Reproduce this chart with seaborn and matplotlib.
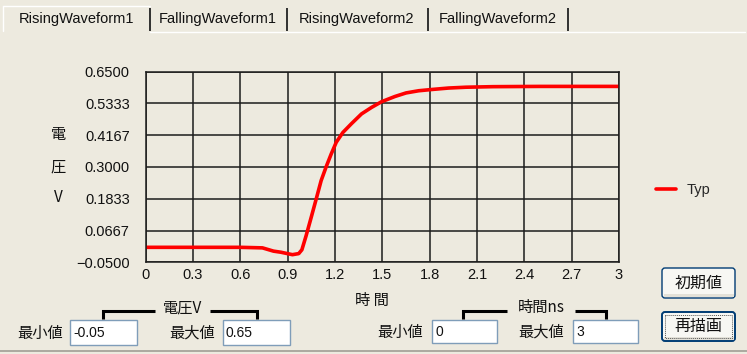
import matplotlib
matplotlib.use("Agg")
import matplotlib.pyplot as plt
from matplotlib.patches import Rectangle, FancyBboxPatch
import seaborn as sns
import pandas as pd

# Rising waveform "Typ" corner: time in ns, voltage in V
time_ns = [0.0, 0.3, 0.6, 0.74, 0.81, 0.857, 0.93, 0.97, 0.99, 1.017, 1.049,
           1.081, 1.112, 1.144, 1.176, 1.208, 1.25, 1.304, 1.368, 1.432, 1.496,
           1.58, 1.65, 1.73, 1.82, 1.92, 2.03, 2.2, 2.5, 3.0]
voltage = [0.005, 0.005, 0.005, 0.003, -0.009, -0.013, -0.022, -0.018, -0.004,
           0.048, 0.115, 0.183, 0.250, 0.301, 0.348, 0.391, 0.427, 0.459, 0.495,
           0.519, 0.540, 0.559, 0.572, 0.580, 0.585, 0.590, 0.593, 0.595, 0.596,
           0.596]

y_ticks = [-0.05, 0.0667, 0.1833, 0.3, 0.4167, 0.5333, 0.65]
y_tick_labels = ["\u22120.0500", "0.0667", "0.1833", "0.3000", "0.4167", "0.5333", "0.6500"]
x_ticks = [0, 0.3, 0.6, 0.9, 1.2, 1.5, 1.8, 2.1, 2.4, 2.7, 3.0]
x_tick_labels = ["0", "0.3", "0.6", "0.9", "1.2", "1.5", "1.8", "2.1", "2.4", "2.7", "3"]

tab_names = ["RisingWaveform1", "FallingWaveform1", "RisingWaveform2", "FallingWaveform2"]
series_name = "Typ"

BG = "#EDEADF"
LATIN = ["Liberation Sans", "DejaVu Sans"]
CJK = ["Noto Sans CJK JP", "DejaVu Sans"]

sns.set_style("white")
plt.rcParams["font.family"] = LATIN

W, H = 747, 354
fig = plt.figure(figsize=(W / 100, H / 100), dpi=100, facecolor=BG)

# Pixel-space overlay for the dialog widgets
ov = fig.add_axes([0, 0, 1, 1], zorder=0)
ov.set_xlim(0, W)
ov.set_ylim(H, 0)
ov.axis("off")
ov.patch.set_alpha(0)

# Tab strip
tab_centers = [77, 218, 357, 498]
for name, cx in zip(tab_names, tab_centers):
    ov.text(cx, 19, name, ha="center", va="center", fontsize=10.5,
            family=LATIN, color="#111111")
for sx in [150, 287, 428, 568]:
    ov.plot([sx, sx], [8, 31], color="#222222", lw=1.3, solid_capstyle="butt")
ov.plot([150, 745], [31.5, 31.5], color="white", lw=1.0)
ov.plot([3, 3], [6, 31], color="white", lw=1.0)
ov.plot([3, 150], [5.5, 5.5], color="white", lw=1.0)

# Chart axes placed on the pixel grid
x0, x1 = 145.7, 619.0
y_top, y_bot = 71.7, 262.3
ax = fig.add_axes([x0 / W, 1 - y_bot / H, (x1 - x0) / W, (y_bot - y_top) / H], zorder=2)
ax.set_facecolor("none")

df = pd.DataFrame({"time": time_ns, "voltage": voltage})
sns.lineplot(data=df, x="time", y="voltage", color="#FF0000", lw=2.6,
             solid_joinstyle="round", ax=ax, label=series_name)

ax.set_xlim(0, 3)
ax.set_ylim(-0.05, 0.65)
ax.set_xticks(x_ticks)
ax.set_xticklabels(x_tick_labels)
ax.set_yticks(y_ticks)
ax.set_yticklabels(y_tick_labels)
ax.grid(True, color="#1c1c1c", lw=1.1)
ax.set_axisbelow(True)
for sp in ax.spines.values():
    sp.set_color("#1c1c1c")
    sp.set_linewidth(1.1)
ax.tick_params(axis="y", length=4.5, width=1.1, color="#1c1c1c", pad=7,
               labelsize=10.5, labelcolor="#111111")
ax.tick_params(axis="x", length=0, pad=4, labelsize=10.5, labelcolor="#111111")
ax.set_xlabel("")
ax.set_ylabel("")

ax.legend(loc="center left", bbox_to_anchor=(656 / W, 1 - 190 / H),
          bbox_transform=fig.transFigure, frameon=False, borderpad=0,
          borderaxespad=0, handlelength=1.35, handletextpad=0.75,
          fontsize=10.5)

# Axis titles
for ch, yy in zip(["電", "圧", "V"], [135, 167, 198]):
    ov.text(58, yy, ch, ha="center", va="center", fontsize=11, family=CJK, color="#111111")
ov.text(372, 300, "時 間", ha="center", va="center", fontsize=11, family=CJK, color="#111111")


def bracket(xl, xr, tx0, tx1, label, ty):
    ov.plot([xl, xl, tx0], [319, 310.5, 310.5], color="black", lw=2.2,
            solid_joinstyle="miter", solid_capstyle="butt")
    ov.plot([tx1, xr, xr], [310.5, 310.5, 319], color="black", lw=2.2,
            solid_joinstyle="miter", solid_capstyle="butt")
    ov.text((tx0 + tx1) / 2, ty, label, ha="center", va="center",
            fontsize=11, family=CJK, color="#111111")


def textbox(xl, xr, yt, yb, value):
    ov.add_patch(Rectangle((xl, yt), xr - xl, yb - yt, facecolor="white",
                           edgecolor="#7F9DB9", lw=1.0))
    ov.text(xl + 3, (yt + yb) / 2 + 0.5, value, ha="left", va="center",
            fontsize=10, family=LATIN, color="#111111")


def button(xl, xr, yt, yb, label, focused=False):
    ov.add_patch(FancyBboxPatch((xl, yt), xr - xl, yb - yt,
                                boxstyle="round,pad=0,rounding_size=3",
                                facecolor="#F7F7F3", edgecolor="#003C74",
                                lw=1.4 if focused else 1.0))
    ov.add_patch(Rectangle((xl + 1.5, yb - 4), xr - xl - 3, 2.5,
                           facecolor="#E3E1D8", edgecolor="none"))
    if focused:
        ov.add_patch(Rectangle((xl + 3, yt + 3), xr - xl - 6, yb - yt - 6,
                               facecolor="none", edgecolor="#555555", lw=0.7,
                               linestyle=(0, (1, 1))))
    ov.text((xl + xr) / 2, (yt + yb) / 2, label, ha="center", va="center",
            fontsize=11.5, family=CJK, color="#111111")


# Voltage range controls
bracket(103, 257, 155, 210, "電圧V", 308)
ov.text(40, 333, "最小値", ha="center", va="center", fontsize=11, family=CJK, color="#111111")
textbox(70, 137, 320, 345, "-0.05")
ov.text(192, 333, "最大値", ha="center", va="center", fontsize=11, family=CJK, color="#111111")
textbox(223, 290, 320, 345, "0.65")

# Time range controls
bracket(463, 606, 507, 575, "時間ns", 307)
ov.text(400, 332, "最小値", ha="center", va="center", fontsize=11, family=CJK, color="#111111")
textbox(432, 497, 320, 343, "0")
ov.text(541, 332, "最大値", ha="center", va="center", fontsize=11, family=CJK, color="#111111")
textbox(573, 638, 320, 343, "3")

# Buttons
button(662, 735, 268, 298, "初期値")
button(662, 735, 312, 341, "再描画", focused=True)

# Window bottom edge
ov.plot([0, W], [350.5, 350.5], color="#A19E95", lw=1.2)

fig.savefig("out.png", dpi=100, facecolor=BG)
